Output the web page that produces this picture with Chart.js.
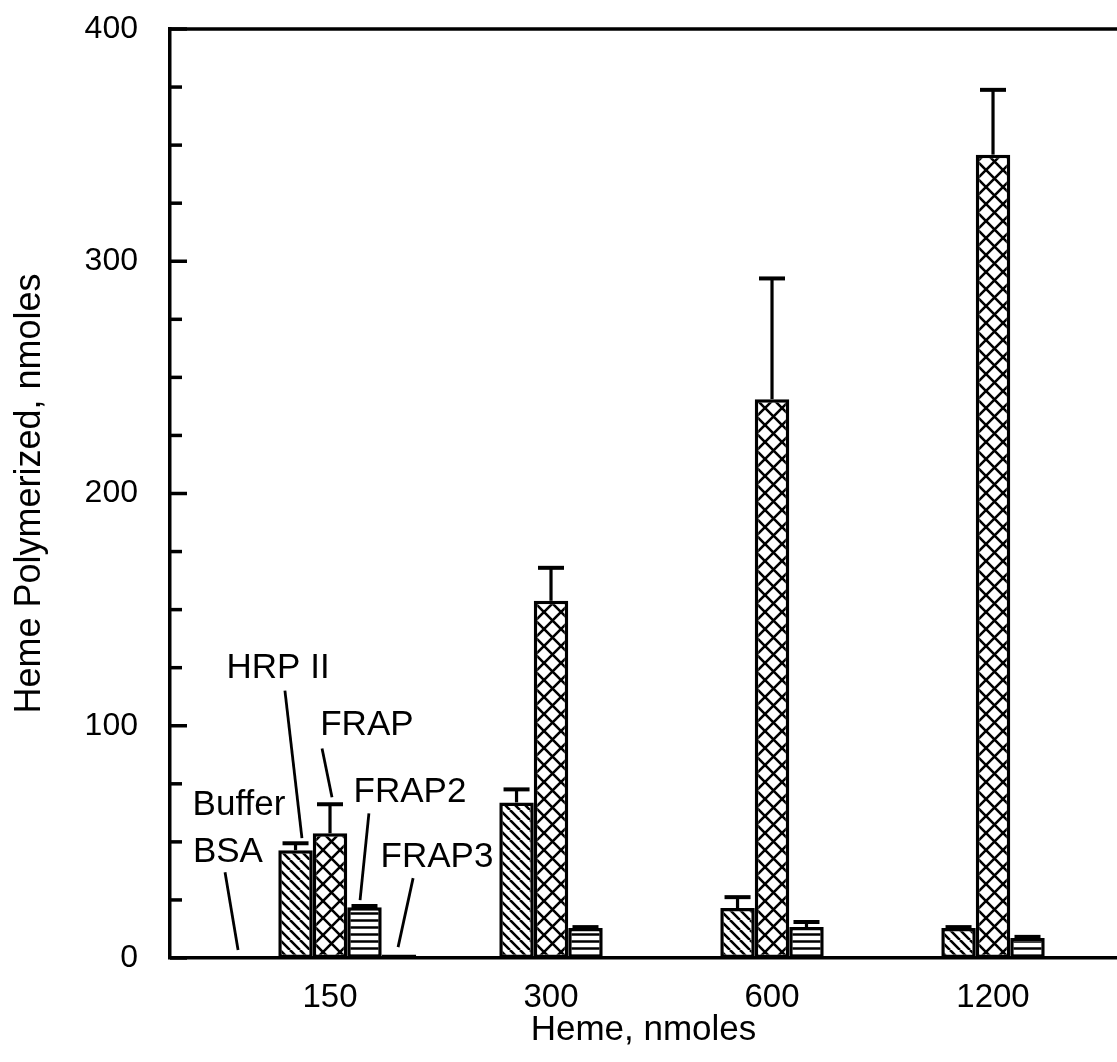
<!DOCTYPE html>
<html>
<head>
<meta charset="utf-8">
<script src="https://cdn.jsdelivr.net/npm/chart.js@4.4.1/dist/chart.umd.min.js"></script>
<style>
  html, body { margin: 0; padding: 0; background: #fff; overflow: hidden; }
  canvas { display: block; }
</style>
</head>
<body>
<canvas id="heme" width="1117" height="1062"></canvas>
<script>
// Heme polymerized vs heme added, bars per protein

const doses = ['150', '300', '600', '1200'];
const seriesNames = ['Buffer / BSA', 'HRP II', 'FRAP', 'FRAP2', 'FRAP3'];

const bufferBsa = [0, 0, 0, 0];
const hrp2 = [46.4, 67, 21.5, 12.9];
const frap = [53.7, 153.8, 240.6, 345.9];
const frap2 = [21.9, 12.9, 13.3, 8.6];
const frap3 = [1.5, 0, 0, 0];

const hrp2Err = [3, 5.6, 4.7, 0.4];
const frapErr = [12.5, 14.2, 52, 27.9];
const frap2Err = [0.5, 0.4, 2.2, 0.5];
const frap3Err = [0, 0, 0, 0];

const FONT = '"Liberation Sans", Arial, Helvetica, sans-serif';

let ctx = document.getElementById('heme').getContext('2d');

function hatch(kind) {
    let s = kind == 'cross' ? 17 : (kind == 'diag' ? 10 : 7);
    let c = document.createElement('canvas');
    c.width = s;
    c.height = s;
    let g = c.getContext('2d');
    g.fillStyle = '#fff';
    g.fillRect(0, 0, s, s);
    g.strokeStyle = '#000';
    if (kind == 'horiz') {
        g.lineWidth = 2.5;
        g.beginPath();
        g.moveTo(0, s / 2);
        g.lineTo(s, s / 2);
        g.stroke();
    }
    else {
        g.lineWidth = 2.6;
        g.beginPath();
        for (let k = -1; k <= 1; k++) {
            g.moveTo(k * s, 0);
            g.lineTo(k * s + s, s);
            if (kind == 'cross') {
                g.moveTo(k * s + s, 0);
                g.lineTo(k * s, s);
            }
        }
        g.stroke();
    }
    return ctx.createPattern(c, 'repeat');
}

function points(arr) {
    return arr.map((v, i) => ({ x: i + 1, y: v }));
}

// leader labels next to the 150 group, in data units
const notes = [
    { text: 'HRP II', x: 0.765, y: 124.6, line: [0.796, 115.1, 0.873, 51.6] },
    { text: 'FRAP', x: 1.167, y: 100.1, line: [0.964, 90.2, 1.009, 69.2] },
    { text: 'Buffer', x: 0.588, y: 65.7 },
    { text: 'BSA', x: 0.538, y: 45.5, line: [0.525, 36.9, 0.584, 3.4] },
    { text: 'FRAP2', x: 1.362, y: 71.3, line: [1.176, 62.3, 1.136, 24.9] },
    { text: 'FRAP3', x: 1.484, y: 43.4, line: [1.376, 34.4, 1.308, 4.7] }
];

const extras = {
    id: 'extras',
    afterDatasetsDraw(chart) {
        let c = chart.ctx;
        let ys = chart.scales.y;
        let xs = chart.scales.x;
        let area = chart.chartArea;
        c.save();
        c.strokeStyle = '#000';
        c.lineCap = 'butt';

        // error bars, upward only
        chart.data.datasets.forEach((ds, di) => {
            if (!ds.errors) return;
            let meta = chart.getDatasetMeta(di);
            meta.data.forEach((bar, i) => {
                let e = ds.errors[i];
                if (!e) return;
                let yTop = ys.getPixelForValue(ds.data[i].y + e);
                c.lineWidth = 3.2;
                c.beginPath();
                c.moveTo(bar.x, bar.y);
                c.lineTo(bar.x, yTop);
                c.stroke();
                c.lineWidth = 4;
                c.beginPath();
                c.moveTo(bar.x - 13, yTop);
                c.lineTo(bar.x + 13, yTop);
                c.stroke();
            });
        });

        // top frame line
        c.lineWidth = 3.5;
        c.beginPath();
        c.moveTo(area.left, area.top);
        c.lineTo(area.right, area.top);
        c.stroke();

        // inward ticks on the y axis
        ys.ticks.forEach(t => {
            let py = ys.getPixelForValue(t.value);
            let len = t.value % 100 == 0 ? 17 : 12;
            c.lineWidth = 3.5;
            c.beginPath();
            c.moveTo(area.left, py);
            c.lineTo(area.left + len, py);
            c.stroke();
        });

        // labels with leader lines
        c.fillStyle = '#000';
        c.font = '35px ' + FONT;
        c.textAlign = 'center';
        c.textBaseline = 'middle';
        notes.forEach(n => {
            c.fillText(n.text, xs.getPixelForValue(n.x), ys.getPixelForValue(n.y));
            if (n.line) {
                c.lineWidth = 2.8;
                c.beginPath();
                c.moveTo(xs.getPixelForValue(n.line[0]), ys.getPixelForValue(n.line[1]));
                c.lineTo(xs.getPixelForValue(n.line[2]), ys.getPixelForValue(n.line[3]));
                c.stroke();
            }
        });
        c.restore();
    }
};

let fills = ['#fff', hatch('diag'), hatch('cross'), hatch('horiz'), hatch('horiz')];
let values = [bufferBsa, hrp2, frap, frap2, frap3];
let errs = [null, hrp2Err, frapErr, frap2Err, frap3Err];

let chart = new Chart(ctx, {
    type: 'bar',
    data: {
        datasets: seriesNames.map((name, i) => ({
            label: name,
            data: points(values[i]),
            errors: errs[i],
            backgroundColor: fills[i],
            borderColor: '#000',
            borderWidth: 3.5,
            borderSkipped: false,
            barPercentage: 1,
            categoryPercentage: 0.78
        }))
    },
    options: {
        responsive: false,
        animation: false,
        devicePixelRatio: 1,
        layout: { padding: { top: 29, right: 0, left: 0, bottom: 0 } },
        plugins: {
            legend: { display: false },
            tooltip: { enabled: false }
        },
        scales: {
            x: {
                type: 'linear',
                offset: false,
                min: 0.276,
                max: 4.561,
                afterBuildTicks: s => { s.ticks = doses.map((d, i) => ({ value: i + 1 })); },
                afterFit: s => { s.height = 104; },
                grid: { display: false },
                border: { display: true, color: '#000', width: 3.5 },
                ticks: {
                    color: '#000',
                    font: { family: FONT, size: 33 },
                    padding: 12,
                    callback: v => doses[Math.round(v) - 1]
                },
                title: {
                    display: true,
                    text: 'Heme, nmoles',
                    color: '#000',
                    font: { family: FONT, size: 35 },
                    padding: { top: 0, bottom: 11 }
                }
            },
            y: {
                min: 0,
                max: 400,
                afterFit: s => {
                    s.width = 170;
                    s.paddingTop = 0;
                    s.paddingBottom = 0;
                },
                grid: { display: false },
                border: { display: true, color: '#000', width: 3.5 },
                ticks: {
                    stepSize: 25,
                    autoSkip: false,
                    color: '#000',
                    font: { family: FONT, size: 32 },
                    padding: 24,
                    callback: v => v % 100 == 0 ? v : ''
                },
                title: {
                    display: true,
                    text: 'Heme Polymerized, nmoles',
                    color: '#000',
                    font: { family: FONT, size: 36 },
                    padding: { top: 8, bottom: 0 }
                }
            }
        }
    },
    plugins: [extras]
});
</script>
</body>
</html>
